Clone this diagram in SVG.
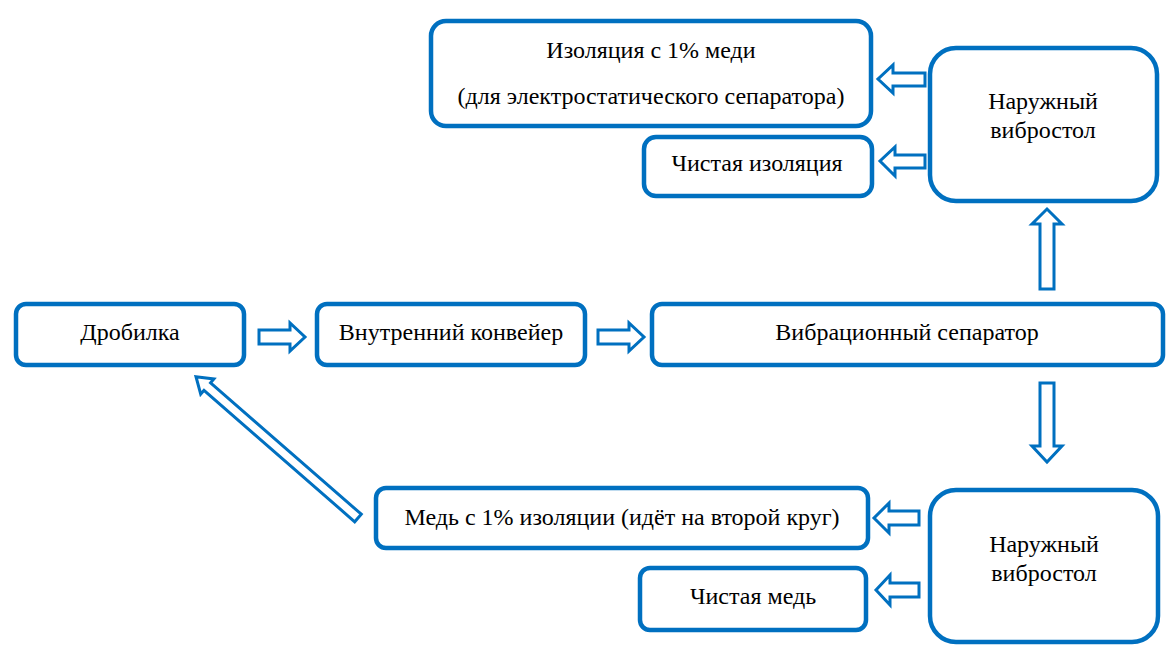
<svg xmlns="http://www.w3.org/2000/svg" width="1174" height="661" viewBox="0 0 1174 661">
<style>
.box{fill:#fff;stroke:#0070C0;stroke-width:4.5}
.arr{fill:#fff;stroke:#0070C0;stroke-width:3;stroke-linejoin:miter}
</style>
<rect width="1174" height="661" fill="#fff"/>
<g font-family="Liberation Serif, Times New Roman, Tinos, Times, Noto Serif, DejaVu Serif, FreeSerif, serif" font-size="24" fill="#000" text-anchor="middle">
<g id="n-izol1"><rect class="box" x="431" y="21" width="440" height="105" rx="15"/><text x="651" y="58">Изоляция с 1% меди</text><text x="651" y="104">(для электростатического сепаратора)</text></g>
<g id="n-izol-clean"><rect class="box" x="644" y="137" width="228" height="59" rx="12"/><text x="757" y="171">Чистая изоляция</text></g>
<g id="n-vibro-top"><rect class="box" x="930" y="48" width="227" height="153" rx="26"/><text x="1043" y="109">Наружный</text><text x="1043" y="138">вибростол</text></g>
<g id="n-drob"><rect class="box" x="16" y="304" width="228" height="61" rx="10"/><text x="130" y="340">Дробилка</text></g>
<g id="n-konv"><rect class="box" x="317" y="304" width="268" height="61" rx="10"/><text x="451" y="340">Внутренний конвейер</text></g>
<g id="n-sep"><rect class="box" x="652" y="304" width="511" height="61" rx="10"/><text x="907" y="340">Вибрационный сепаратор</text></g>
<g id="n-med1"><rect class="box" x="376" y="488" width="492" height="60" rx="10"/><text x="622" y="525">Медь с 1% изоляции (идёт на второй круг)</text></g>
<g id="n-med-clean"><rect class="box" x="640" y="568" width="226" height="62" rx="10"/><text x="753" y="604">Чистая медь</text></g>
<g id="n-vibro-bot"><rect class="box" x="930" y="490" width="228" height="152" rx="26"/><text x="1044" y="552">Наружный</text><text x="1044" y="581">вибростол</text></g>
</g>
<g id="connectors">
<polygon class="arr" points="259,330 290,330 290,323 305,337 290,351 290,344 259,344"/>
<polygon class="arr" points="598,330 629,330 629,323 644,337 629,351 629,344 598,344"/>
<polygon class="arr" points="1040,289 1040,224 1032,224 1047,209 1062,224 1054,224 1054,289"/>
<polygon class="arr" points="1040,383 1040,446 1032,446 1047,462 1062,446 1054,446 1054,383"/>
<polygon class="arr" points="925,73 893,73 893,65 878,79 893,93 893,86 925,86"/>
<polygon class="arr" points="925,155 895,155 895,147 880,161 895,176 895,168 925,168"/>
<polygon class="arr" points="919,511 889,511 889,503 874,518 889,533 889,525 919,525"/>
<polygon class="arr" points="919,583 890,583 890,575 876,590 890,605 890,597 919,597"/>
<polygon class="arr" transform="translate(358,518) rotate(-138.9)" points="0,-5 200,-5 200,-10 215,0 200,10 200,5 0,5"/>
</g>
</svg>
